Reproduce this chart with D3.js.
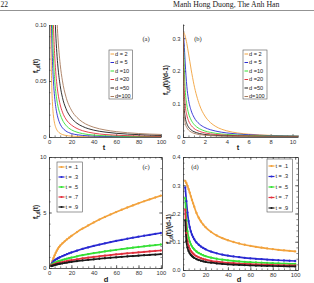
<!DOCTYPE html>
<html><head><meta charset="utf-8">
<script src="https://cdn.jsdelivr.net/npm/d3@7"></script>
<style>body{margin:0;background:#fff}svg{display:block}</style>
</head><body>
<svg id="c" width="314" height="283"></svg>
<script>
// ---------- data ----------
const legendD = ["d = 2", "d = 5", "d =10", "d =20", "d =50", "d=100"];
const legendT = ["t = .1", "t = .3", "t = .5", "t = .7", "t = .9"];
const seriesColors = ["#f2a23c", "#2a2ad2", "#35e035", "#e2313e", "#1a1a1a", "#a87a5c"];

// panel (a): f vs t
const tA = [1, 1.5, 2, 2.5, 3, 4, 5, 6, 7, 8, 10, 12, 15, 20, 25, 30, 40, 50, 60, 70, 80, 90, 100];
const aD2 = [0.1592,0.0979,0.0637,0.0439,0.0318,0.0187,0.0122,0.0086,0.0064,0.0049,0.0032,0.0022,0.0014,0.0008,0.0005,0.00035,0.0002,0.00013,0.00009,0.00006,0.00005,0.00004,0.00003];
const aD5 = [0.2406,0.1575,0.1143,0.0883,0.0710,0.0492,0.0359,0.0272,0.0212,0.0170,0.0114,0.0082,0.0054,0.0031,0.0020,0.0014,0.0008,0.0005,0.00035,0.00026,0.0002,0.00016,0.00013];
const aD10 = [0.3474,0.2280,0.1645,0.1261,0.1007,0.0698,0.0520,0.0407,0.0330,0.0274,0.0202,0.0152,0.0106,0.0064,0.0043,0.0030,0.0017,0.0011,0.0008,0.0006,0.00045,0.00035,0.00029];
const aD20 = [0.4971,0.3263,0.2355,0.1805,0.1442,0.0999,0.0745,0.0583,0.0472,0.0392,0.0287,0.0222,0.0161,0.0107,0.0076,0.0056,0.0034,0.0022,0.0016,0.0012,0.0009,0.0007,0.0006];
const aD50 = [0.7918,0.5198,0.3751,0.2876,0.2297,0.1592,0.1186,0.0928,0.0752,0.0625,0.0458,0.0353,0.0257,0.0170,0.0122,0.0094,0.0061,0.0044,0.0033,0.0026,0.0021,0.0017,0.0014];
const aD100 = [1.1226,0.7369,0.5318,0.4077,0.3257,0.2256,0.1682,0.1316,0.1066,0.0886,0.0649,0.0501,0.0364,0.0240,0.0174,0.0133,0.0087,0.0063,0.0048,0.0038,0.0031,0.0026,0.0023];

// panel (b): f/(d-1) vs t
const tB = [0, 0.01, 0.02, 0.05, 0.1, 0.2, 0.35, 0.5, 0.75, 1, 1.5, 2, 2.5, 3, 4, 5, 6, 8, 10.5];
const bD2 = [0.3183,0.3183,0.3182,0.3175,0.3152,0.3061,0.2836,0.2546,0.2037,0.1592,0.0979,0.0637,0.0439,0.0318,0.0187,0.0122,0.0086,0.0049,0.0029];
const bD5 = [0.3183,0.3180,0.3169,0.3095,0.2862,0.2246,0.1538,0.1143,0.0795,0.0602,0.0394,0.0286,0.0221,0.0178,0.0123,0.0090,0.0068,0.0042,0.0026];
const bD10 = [0.3183,0.3168,0.3122,0.2848,0.2243,0.1450,0.0970,0.0729,0.0510,0.0386,0.0252,0.0182,0.0140,0.0111,0.0077,0.0058,0.0045,0.0030,0.0021];
const bD20 = [0.3183,0.3121,0.2955,0.2257,0.1521,0.0985,0.0662,0.0498,0.0349,0.0262,0.0172,0.0124,0.0095,0.0076,0.0053,0.0039,0.0031,0.0021,0.0014];
const bD50 = [0.3183,0.2847,0.2270,0.1390,0.0938,0.0605,0.0406,0.0305,0.0213,0.0162,0.0106,0.0076,0.0058,0.0047,0.0032,0.0024,0.0019,0.0013,0.0009];
const bD100 = [0.3183,0.2275,0.1585,0.0970,0.0656,0.0424,0.0285,0.0214,0.0150,0.0113,0.0074,0.0054,0.0041,0.0033,0.0023,0.0017,0.0013,0.0009,0.0006];

// panels (c),(d): vs d
const dC = [2,3,4,5,6,7,8,9,10,12,14,16,18,20,25,30,35,40,45,50,55,60,65,70,75,80,85,90,95,100];
const cT1 = [0.3152,0.6152,0.8931,1.1448,1.3685,1.5651,1.7367,1.8868,2.0188,2.2186,2.4031,2.5745,2.7351,2.8869,3.2354,3.5499,3.8389,4.1075,4.3600,4.5982,4.8244,5.0416,5.2486,5.4482,5.6410,5.8270,6.0077,6.1828,6.3535,6.5192];
const cT3 = [0.2920,0.4876,0.6092,0.6923,0.7563,0.8185,0.8767,0.9308,0.9807,1.0732,1.1623,1.2453,1.3231,1.3965,1.5650,1.7174,1.8571,1.9871,2.1089,2.2241,2.3339,2.4385,2.5389,2.6358,2.7284,2.8187,2.9064,2.9904,3.0729,3.1532];
const cT5 = [0.2546,0.3536,0.4092,0.4573,0.5032,0.5456,0.5850,0.6218,0.6564,0.7204,0.7803,0.8360,0.8881,0.9374,1.0506,1.1527,1.2466,1.3338,1.4157,1.4930,1.5666,1.6370,1.7044,1.7693,1.8318,1.8922,1.9506,2.0075,2.0630,2.1168];
const cT7 = [0.2137,0.2617,0.3032,0.3410,0.3749,0.4064,0.4358,0.4632,0.4885,0.5372,0.5819,0.6234,0.6623,0.6990,0.7834,0.8596,0.9296,0.9946,1.0557,1.1133,1.1682,1.2207,1.2710,1.3193,1.3660,1.4110,1.4546,1.4970,1.5384,1.5786];
const cT9 = [0.1759,0.2042,0.2381,0.2680,0.2952,0.3195,0.3428,0.3648,0.3855,0.4239,0.4591,0.4919,0.5226,0.5516,0.6182,0.6783,0.7335,0.7848,0.8330,0.8785,0.9218,0.9632,1.0029,1.0411,1.0780,1.1134,1.1478,1.1811,1.2136,1.2453];
const dT1 = [0.3152,0.3076,0.2977,0.2862,0.2737,0.2609,0.2481,0.2359,0.2243,0.2017,0.1849,0.1716,0.1609,0.1519,0.1348,0.1224,0.1129,0.1053,0.0991,0.0938,0.0893,0.0855,0.0820,0.0790,0.0762,0.0738,0.0715,0.0695,0.0676,0.0659];
const dT3 = [0.2920,0.2438,0.2031,0.1731,0.1513,0.1364,0.1252,0.1164,0.1090,0.0976,0.0894,0.0830,0.0778,0.0735,0.0652,0.0592,0.0546,0.0510,0.0479,0.0454,0.0432,0.0413,0.0397,0.0382,0.0369,0.0357,0.0346,0.0336,0.0327,0.0319];
const dT5 = [0.2546,0.1768,0.1364,0.1143,0.1006,0.0909,0.0836,0.0777,0.0729,0.0655,0.0600,0.0557,0.0522,0.0493,0.0438,0.0398,0.0367,0.0342,0.0322,0.0305,0.0290,0.0278,0.0266,0.0256,0.0248,0.0240,0.0232,0.0226,0.0220,0.0214];
const dT7 = [0.2137,0.1308,0.1011,0.0853,0.0750,0.0677,0.0623,0.0579,0.0543,0.0488,0.0448,0.0416,0.0390,0.0368,0.0326,0.0296,0.0273,0.0255,0.0240,0.0227,0.0216,0.0207,0.0199,0.0191,0.0185,0.0179,0.0173,0.0168,0.0164,0.0160];
const dT9 = [0.1759,0.1021,0.0794,0.0670,0.0590,0.0532,0.0490,0.0456,0.0428,0.0385,0.0353,0.0328,0.0307,0.0290,0.0258,0.0234,0.0216,0.0201,0.0189,0.0179,0.0171,0.0163,0.0157,0.0151,0.0146,0.0141,0.0137,0.0133,0.0129,0.0126];

const yTicksA = [0, 0.05, 0.1], yTicksB = [0, 0.1, 0.2, 0.3], yTicksC = [0, 5, 10], yTicksD = [0, 0.1, 0.2, 0.3, 0.4];
const xTicks100 = [0, 20, 40, 60, 80, 100], xTicksB = [0, 2, 4, 6, 8, 10];

// ---------- drawing ----------
const svg = d3.select("#c");
const SANS = "'Liberation Sans', Arial, sans-serif";
const SERIF = "'Liberation Serif', 'DejaVu Serif', serif";
const AX = "#333";

svg.append("text").attr("x", 0.5).attr("y", 7).attr("font-family", SERIF).attr("font-size", 7.5).attr("fill", "#222").text("22");
svg.append("text").attr("x", 173).attr("y", 7).attr("font-family", SERIF).attr("font-size", 7.8).attr("fill", "#222").text("Manh Hong Duong, The Anh Han");
svg.append("line").attr("x1", 0).attr("x2", 314).attr("y1", 10.5).attr("y2", 10.5).attr("stroke", "#777").attr("stroke-width", 0.8);

let clipId = 0;
function panel(o) {
  const g = svg.append("g");
  const x = o.x, y = o.y;
  const [x0, x1] = x.range(), [y0, y1] = y.range();
  const id = "clip" + (clipId++);
  svg.append("clipPath").attr("id", id).append("rect")
    .attr("x", x0).attr("y", y1).attr("width", x1 - x0).attr("height", y0 - y1);

  function styleAxis(sel) {
    sel.select(".domain").attr("stroke", AX).attr("stroke-width", 0.8);
    sel.selectAll(".tick line").attr("stroke", AX).attr("stroke-width", 0.6);
    sel.selectAll(".tick text").attr("font-family", SANS).attr("font-size", 5.8).attr("fill", "#333");
  }
  g.append("g").attr("transform", `translate(0,${y0})`)
    .call(d3.axisBottom(x).tickValues(o.xMinor).tickSizeInner(-1.6).tickSizeOuter(0).tickFormat(""))
    .call(s => { styleAxis(s); s.select(".domain").remove(); });
  g.append("g").attr("transform", `translate(${x0},0)`)
    .call(d3.axisLeft(y).tickValues(o.yMinor).tickSizeInner(-1.6).tickSizeOuter(0).tickFormat(""))
    .call(s => { styleAxis(s); s.select(".domain").remove(); });
  g.append("g").attr("transform", `translate(0,${y0})`)
    .call(d3.axisBottom(x).tickValues(o.xTicks).tickSizeInner(-3).tickSizeOuter(0).tickPadding(3).tickFormat(d3.format("d")))
    .call(styleAxis);
  g.append("g").attr("transform", `translate(${x0},0)`)
    .call(d3.axisLeft(y).tickValues(o.yTicks).tickSizeInner(-3).tickSizeOuter(0).tickPadding(2.5).tickFormat(o.yFmt))
    .call(styleAxis);
  if (o.frame) {
    g.append("g").attr("transform", `translate(0,${y1})`)
      .call(d3.axisTop(x).tickValues(o.xTicks).tickSizeInner(-3).tickSizeOuter(0).tickFormat(""))
      .call(styleAxis);
    g.append("g").attr("transform", `translate(${x1},0)`)
      .call(d3.axisRight(y).tickValues(o.yTicks).tickSizeInner(-3).tickSizeOuter(0).tickFormat(""))
      .call(styleAxis);
    g.append("g").attr("transform", `translate(0,${y1})`)
      .call(d3.axisTop(x).tickValues(o.xMinor).tickSizeInner(-1.6).tickSizeOuter(0).tickFormat(""))
      .call(s => { styleAxis(s); s.select(".domain").remove(); });
    g.append("g").attr("transform", `translate(${x1},0)`)
      .call(d3.axisRight(y).tickValues(o.yMinor).tickSizeInner(-1.6).tickSizeOuter(0).tickFormat(""))
      .call(s => { styleAxis(s); s.select(".domain").remove(); });
  }

  const plot = g.append("g").attr("clip-path", `url(#${id})`);
  const line = d3.line().x((d, i) => x(o.xs[i])).y(d => y(d)).curve(d3.curveMonotoneX);
  o.series.forEach((s, k) => {
    plot.append("path").attr("d", line(s)).attr("fill", "none")
      .attr("stroke", seriesColors[k]).attr("stroke-width", o.lw).attr("stroke-linejoin", "round");
  });
  if (o.markers) {
    o.series.forEach((s, k) => {
      plot.selectAll(null).data(s).join("circle")
        .attr("cx", (d, i) => x(o.xs[i])).attr("cy", d => y(d)).attr("r", 1.15)
        .attr("fill", seriesColors[k]);
    });
  }

  const L = o.legend;
  const lg = g.append("g");
  lg.append("rect").attr("x", L.x).attr("y", L.y).attr("width", L.w).attr("height", L.h)
    .attr("fill", "#fff").attr("stroke", "#555").attr("stroke-width", 0.6);
  L.labels.forEach((lab, k) => {
    const yy = L.y0 + k * L.dy;
    lg.append("line").attr("x1", L.x + 1.5).attr("x2", L.x + 1.5 + L.sw).attr("y1", yy).attr("y2", yy)
      .attr("stroke", seriesColors[k]).attr("stroke-width", o.markers ? 1.2 : 1);
    if (o.markers) lg.append("circle").attr("cx", L.x + 1.5 + L.sw / 2).attr("cy", yy).attr("r", 1.1).attr("fill", seriesColors[k]);
    lg.append("text").attr("x", L.x + 2.5 + L.sw).attr("y", yy).attr("dy", "0.33em")
      .attr("font-family", SANS).attr("font-size", 5.6).attr("fill", "#222").text(lab);
  });

  g.append("text").attr("x", o.tag[1]).attr("y", o.tag[2]).attr("text-anchor", "middle").attr("dy", "0.33em")
    .attr("font-family", SERIF).attr("font-size", 6.5).attr("fill", "#222").text(o.tag[0]);
  g.append("text").attr("x", o.xTitle[1]).attr("y", o.xTitle[2]).attr("text-anchor", "middle")
    .attr("font-family", SANS).attr("font-weight", "bold").attr("font-size", 7.5).attr("fill", "#222").text(o.xTitle[0]);
  const yt = g.append("text").attr("transform", `translate(${o.yTitle[1]},${o.yTitle[2]}) rotate(-90)`)
    .attr("text-anchor", "middle").attr("font-family", SANS).attr("font-weight", "bold").attr("font-size", 6.5).attr("fill", "#222");
  yt.append("tspan").text("f");
  yt.append("tspan").attr("font-size", 4.5).attr("dy", 1.5).text("t,d");
  yt.append("tspan").attr("dy", -1.5).text(o.yTitle[0]);
}

const minor = (a, b, s) => d3.range(a, b + s / 2, s);

panel({
  x: d3.scaleLinear([0, 100], [49, 161]), y: d3.scaleLinear([0, 0.1], [137, 25]),
  xTicks: xTicks100, yTicks: yTicksA, xMinor: minor(0, 100, 5), yMinor: minor(0, 0.1, 0.01),
  yFmt: d => d === 0 ? "0" : d3.format(".2f")(d),
  xs: tA, series: [aD2, aD5, aD10, aD20, aD50, aD100], lw: 0.9, markers: false, frame: false,
  legend: { x: 109, y: 50, w: 23.5, h: 49, y0: 54, dy: 8.5, sw: 3.5, labels: legendD },
  tag: ["(a)", 146, 39], xTitle: ["t", 104, 150], yTitle: ["(t)", 38, 66]
});
panel({
  x: d3.scaleLinear([0, 10.5], [183, 298]), y: d3.scaleLinear([0, 0.343], [137, 24]),
  xTicks: xTicksB, yTicks: yTicksB, xMinor: minor(0, 10.5, 0.5), yMinor: minor(0, 0.34, 0.02),
  yFmt: d => d === 0 ? "0" : d3.format(".1f")(d),
  xs: tB, series: [bD2, bD5, bD10, bD20, bD50, bD100], lw: 0.9, markers: false, frame: false,
  legend: { x: 243, y: 50, w: 24, h: 49, y0: 54, dy: 8.5, sw: 3.5, labels: legendD },
  tag: ["(b)", 198, 39], xTitle: ["t", 238, 150], yTitle: ["(t)/(d-1)", 168, 80]
});
panel({
  x: d3.scaleLinear([0, 101], [49, 162]), y: d3.scaleLinear([0, 10], [268, 157]),
  xTicks: xTicks100, yTicks: yTicksC, xMinor: minor(0, 100, 5), yMinor: minor(0, 10, 1),
  yFmt: d3.format("d"),
  xs: dC, series: [cT1, cT3, cT5, cT7, cT9], lw: 1.7, markers: true, frame: true,
  legend: { x: 57, y: 162, w: 25.5, h: 50, y0: 167, dy: 10, sw: 6, labels: legendT },
  tag: ["(c)", 146, 167], xTitle: ["d", 106, 282], yTitle: ["(t)", 38, 212]
});
panel({
  x: d3.scaleLinear([0, 102.5], [183, 298]), y: d3.scaleLinear([0, 0.4], [270, 157]),
  xTicks: xTicks100, yTicks: yTicksD, xMinor: minor(0, 100, 5), yMinor: minor(0, 0.4, 0.02),
  yFmt: d3.format(".1f"),
  xs: dC, series: [dT1, dT3, dT5, dT7, dT9], lw: 1.7, markers: true, frame: true,
  legend: { x: 267, y: 159, w: 25.5, h: 53, y0: 166, dy: 10.5, sw: 6, labels: legendT },
  tag: ["(d)", 195, 167], xTitle: ["d", 239, 282], yTitle: ["(t)/(d-1)", 171, 229]
});
</script>
</body></html>
